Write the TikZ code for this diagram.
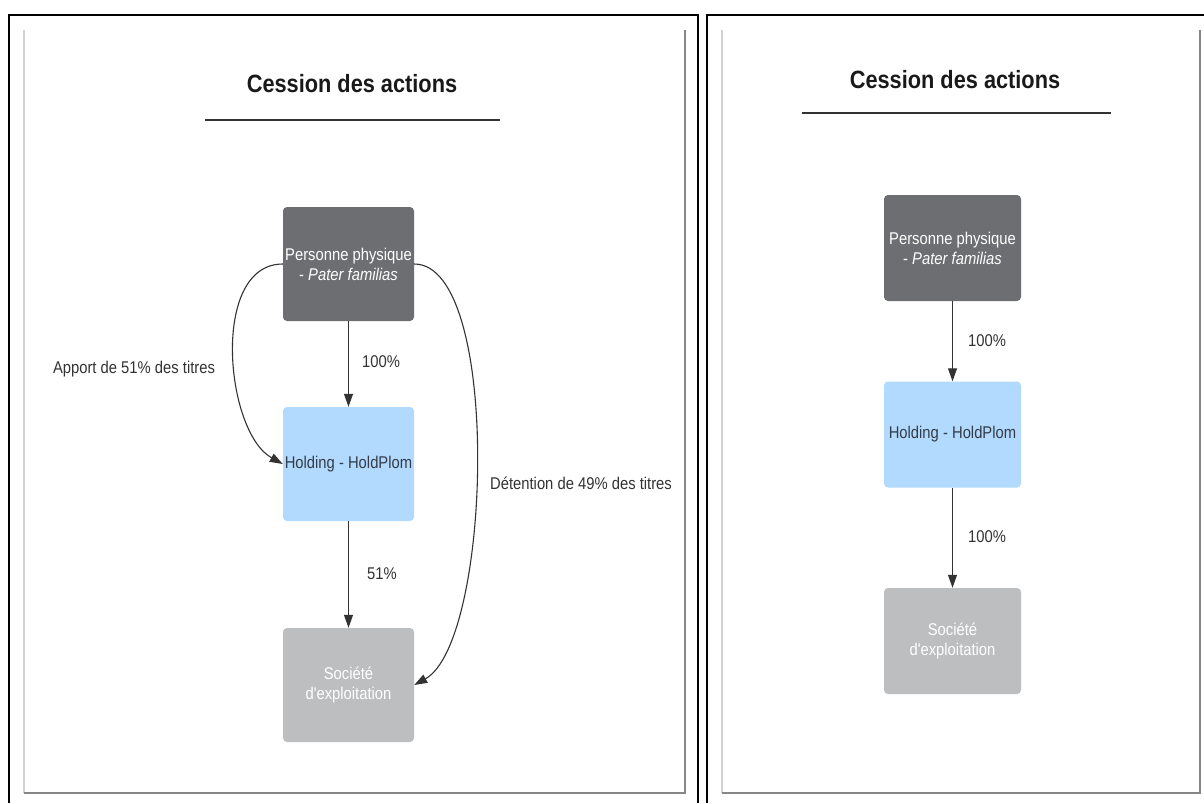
\documentclass[tikz,border=0pt]{standalone}
\usepackage{fontspec}
\setmainfont{Liberation Sans}[FakeStretch=0.87, Ligatures=TeXOff]
\usetikzlibrary{arrows.meta}
\definecolor{darkbox}{RGB}{109,110,113}
\definecolor{bluebox}{RGB}{178,218,255}
\definecolor{greybox}{RGB}{189,190,192}
\definecolor{ink}{RGB}{51,51,51}
\definecolor{holdtext}{RGB}{52,60,72}
\definecolor{panelline}{RGB}{210,210,210}
\definecolor{panelshadow}{RGB}{135,135,135}
\begin{document}
\begin{tikzpicture}[x=1pt,y=-1pt,
  box/.style={rectangle, rounded corners=4pt, align=center, inner sep=0pt, font=\fontsize{17}{20}\selectfont},
  bigbox/.style={box, minimum width=131pt, minimum height=114pt},
  smallbox/.style={box, minimum width=137pt, minimum height=106pt},
  personne/.style={fill=darkbox, text=white},
  holding/.style={fill=bluebox, text=holdtext},
  societe/.style={fill=greybox, text=white},
  lbl/.style={text=ink, font=\fontsize{17}{20}\selectfont, inner sep=0pt},
  titre/.style={font=\bfseries\fontsize{25}{28}\selectfont, text=black!90, inner sep=0pt},
  link/.style={draw=ink, line width=1.1pt, -{Triangle[length=13pt,width=9pt]}},
  frame/.style={draw=black, line width=2pt},
  rule/.style={draw=ink, line width=2pt},
]
\useasboundingbox (0,0) rectangle (1204,803);
\fill[white] (0,0) rectangle (1204,803);

% outer frames
\draw[frame] (9,803) -- (9,15) -- (698,15) -- (698,803);
\draw[frame] (707,803) -- (707,15) -- (1204,15);

% inner panels
\draw[panelline, line width=1.2pt] (24,30) -- (24,793);
\draw[panelshadow, line width=1.5pt] (24,793) -- (685,793) -- (685,30);
\draw[panelline, line width=1.2pt] (722,30) -- (722,793);
\draw[panelshadow, line width=1.5pt] (722,793) -- (1200,793) -- (1200,30);

% ---------- left panel ----------
\node[titre] (t1) at (352,84) {Cession des actions};
\draw[rule] (205,120) -- (500,120);

\node[bigbox, personne] (p1) at (348.5,264) {Personne physique\\- \textit{Pater familias}};
\node[bigbox, holding] (h1) at (348.5,464) {Holding - HoldPlom};
\node[bigbox, societe] (s1) at (348.5,685) {Société\\d'exploitation};

\draw[link] (p1) -- (h1);
\draw[link] (h1) -- (s1);
\draw[link] (p1.west) .. controls (210,264) and (225,432) .. (h1.west);
\draw[link] (p1.east) .. controls (502,264) and (492,642) .. (s1.east);

\node[lbl] (l1) at (381,362) {100\%};
\node[lbl] (l2) at (382,574) {51\%};
\node[lbl] (l3) at (134,369) {Apport de 51\% des titres};
\node[lbl] (l4) at (581,483) {Détention de 49\% des titres};

% ---------- right panel ----------
\node[titre] (t2) at (955,80) {Cession des actions};
\draw[rule] (802,113) -- (1111,113);

\node[smallbox, personne] (p2) at (952.5,248) {Personne physique\\- \textit{Pater familias}};
\node[smallbox, holding] (h2) at (952.5,434.5) {Holding - HoldPlom};
\node[smallbox, societe] (s2) at (952.5,641) {Société\\d'exploitation};

\draw[link] (p2) -- (h2);
\draw[link] (h2) -- (s2);

\node[lbl] (l5) at (987,341) {100\%};
\node[lbl] (l6) at (987,537) {100\%};
\end{tikzpicture}
\end{document}
